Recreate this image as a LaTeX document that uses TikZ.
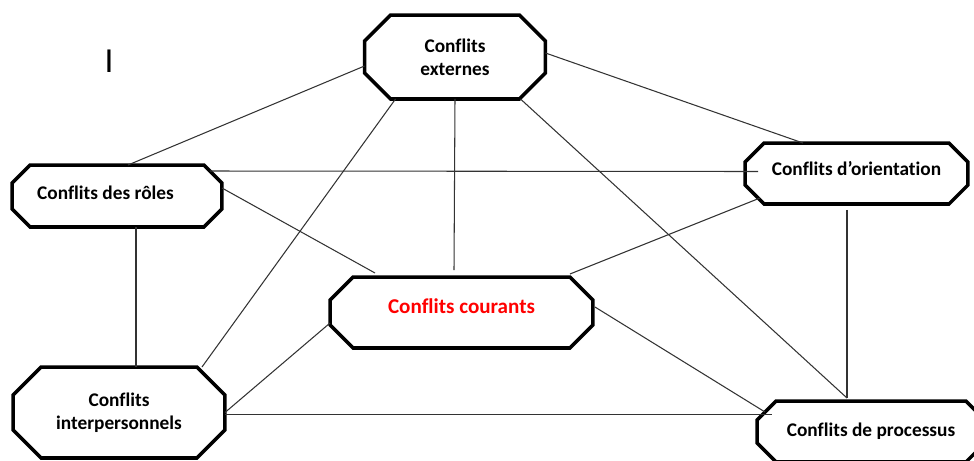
\documentclass[tikz,border=0pt]{standalone}
\usepackage{fontspec}
\setmainfont{Carlito}[Ligatures=NoCommon]
\usetikzlibrary{calc}

\begin{document}
\begin{tikzpicture}[x=0.02cm, y=-0.02cm]
  \tikzstyle{conflit} = [rectangle, inner sep=0pt, outer sep=0pt, font=\fontsize{11}{13.2}\selectfont\bfseries]
  \tikzstyle{cadre} = [draw=black, line width=2pt, line join=miter]
  \tikzstyle{link} = [line width=0.6pt, black!80]

  \useasboundingbox (0,0) rectangle (974,460);

  \node[font=\fontsize{20}{24}\selectfont] (curseur) at (109,61.5) {I};

  \node[conflit, align=center, minimum width=3.62cm, minimum height=1.68cm] (ext) at (455,57) {Conflits\\externes};
  \node[conflit, minimum width=4.2cm, minimum height=1.24cm, text height=7.8pt, text depth=3.4pt] (roles) at (117,196) {Conflits des rôles\kern0.46cm};
  \node[conflit, minimum width=4.46cm, minimum height=1.22cm, text height=7.8pt, text depth=5.1pt] (orient) at (856.5,173.5) {Conflits d’orientation};
  \node[conflit, minimum width=5.26cm, minimum height=1.42cm, text height=8.6pt, text depth=7.4pt, text=red, font=\fontsize{12}{14}\selectfont\bfseries] (cour) at (461.5,312.5) {Conflits courants};
  \node[conflit, align=center, minimum width=4.24cm, minimum height=1.82cm] (inter) at (119,412.5) {Conflits\\interpersonnels};
  \node[conflit, minimum width=4.56cm, minimum height=1.22cm, text height=7.8pt, text depth=1.7pt] (proc) at (871,431.5) {Conflits de processus};

  \foreach \n/\c in {ext/26, roles/18, orient/19, cour/23, inter/28, proc/19}
    \draw[cadre] ($(\n.north west)+(\c,0)$) -- ($(\n.north east)+(-\c,0)$) -- ($(\n.north east)+(0,\c)$)
      -- ($(\n.south east)+(0,-\c)$) -- ($(\n.south east)+(-\c,0)$) -- ($(\n.south west)+(\c,0)$)
      -- ($(\n.south west)+(0,-\c)$) -- ($(\n.north west)+(0,\c)$) -- cycle;

  \draw[link] ($(ext.west)+(0,9)$) -- ($(roles.north)+(11,0)$);
  \draw[link] ($(ext.south west)+(31,0)$) -- ($(inter.north east)+(-23,0)$);
  \draw[link] (ext.south) -- ($(cour.north)+(-7.5,-7)$);
  \draw[link] ($(ext.south east)+(-25,0)$) -- ($(proc.north)+(-24,-3)$);
  \draw[link] ($(ext.east)+(0,-4)$) -- ($(orient.north)+(-53.5,0)$);
  \draw[link] ($(roles.north east)+(-12,6)$) -- ($(orient.west)+(13,-2)$);
  \draw[link] ($(roles.east)+(0,-8)$) -- ($(cour.north west)+(45,-4)$);
  \draw[link] ($(roles.south)+(19,0)$) -- ($(inter.north)+(17,0)$);
  \draw[link] ($(cour.north east)+(-23,-3)$) -- ($(orient.south west)+(15,-6)$);
  \draw[link] ($(cour.east)+(2,-5.5)$) -- ($(proc.north west)+(8,11)$);
  \draw[link] ($(cour.west)+(0,10.5)$) -- (inter.east);
  \draw[link] ($(inter.east)+(0,2)$) -- ($(proc.west)+(15,-17)$);
  \draw[link] ($(orient.south)+(-9.5,6)$) -- ($(proc.north)+(-24,-3)$);
\end{tikzpicture}
\end{document}
